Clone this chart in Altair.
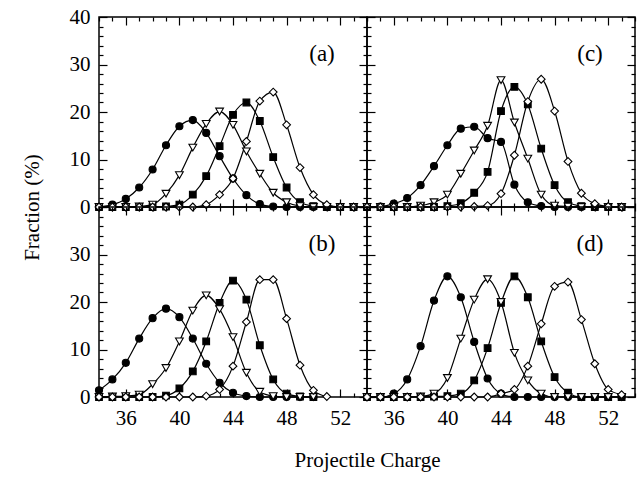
import altair as alt
import pandas as pd

# Projectile charge states (x positions of the points)
charges = list(range(34, 54))

# Fraction (%) per charge state; None = no point drawn
a_circle = [0, 0.5, 1.7, 4.1, 7.9, 13.0, 17.0, 18.3, 15.6, 10.7, 6.0, 2.5, 0.6, 0.1, 0, 0, 0, 0, 0, 0]
a_tri = [0, 0, 0, 0.1, 0.5, 2.8, 6.7, 12.5, 17.5, 20.1, 17.3, 11.7, 7.0, 3.0, 1.0, 0.2, 0, 0, 0, 0]
a_sq = [0, 0, 0, 0, 0, 0.1, 0.5, 2.6, 6.5, 12.8, 19.4, 22.0, 18.1, 10.5, 4.1, 1.0, 0.2, 0, 0, 0]
a_dia = [0, 0, 0, 0, 0, 0, 0, 0, 0.5, 2.6, 6.0, 13.8, 22.3, 24.2, 17.3, 8.3, 2.6, 0.5, 0, 0]

b_circle = [1.4, 3.7, 7.2, 12.3, 16.6, 18.6, 16.8, 12.3, 7.0, 3.0, 0.9, 0.2, 0, 0, 0, 0, 0, None, None, None]
b_tri = [0, 0.1, 0.2, 0.5, 2.7, 6.1, 11.7, 18.2, 21.4, 18.5, 12.6, 5.1, 1.1, 0.2, 0, 0, 0, None, None, None]
b_sq = [0, 0, 0, 0, 0, 0.3, 1.8, 5.4, 11.7, 19.8, 24.5, 20.5, 10.9, 3.7, 0.7, 0.1, 0, None, None, None]
b_dia = [0, 0, 0, 0, 0, 0, 0, 0, 0.2, 1.6, 6.5, 15.8, 24.7, 24.7, 16.5, 6.7, 1.4, 0.1, None, None]

c_circle = [0, 0.1, 0.7, 1.9, 4.6, 8.6, 13.0, 16.5, 16.9, 14.5, 13.7, 4.7, 1.0, 0.2, 0, 0, 0, 0, 0, 0]
c_tri = [0, 0, 0, 0, 0.3, 1.0, 2.6, 7.0, 11.9, 17.1, 26.7, 17.8, 10.2, 2.6, 0.3, 0.1, 0, 0, 0, 0]
c_sq = [0, 0, 0, 0, 0, 0, 0.2, 0.8, 3.0, 7.4, 20.2, 25.3, 21.6, 12.3, 4.6, 1.0, 0.2, 0, 0, 0]
c_dia = [0, 0, 0, 0, 0, 0, 0, 0, 0.1, 0.3, 2.8, 10.9, 22.2, 26.9, 20.2, 9.6, 2.9, 0.7, 0.1, 0]

d_circle = [0, 0, 0.7, 3.7, 10.7, 20.3, 25.4, 21.0, 11.6, 3.9, 0.7, 0, 0, 0, 0, 0, 0, 0, 0, 0]
d_tri = [0, 0, 0, 0, 0.1, 0.7, 4.0, 12.3, 20.5, 24.8, 20.0, 9.3, 3.5, 0.7, 0, 0, 0, 0, 0, 0]
d_sq = [0, 0, 0, 0, 0, 0.1, 0.2, 0.7, 3.5, 10.3, 19.8, 25.4, 21.0, 11.7, 4.2, 0.9, 0, 0, 0, 0]
d_dia = [0, 0, 0, 0, 0, 0, 0, 0, 0, 0, 0.7, 1.6, 6.5, 15.4, 23.3, 24.2, 16.3, 7.0, 1.6, 0.5]

panels = {
    "a": {"circle": a_circle, "tri": a_tri, "sq": a_sq, "dia": a_dia},
    "b": {"circle": b_circle, "tri": b_tri, "sq": b_sq, "dia": b_dia},
    "c": {"circle": c_circle, "tri": c_tri, "sq": c_sq, "dia": c_dia},
    "d": {"circle": d_circle, "tri": d_tri, "sq": d_sq, "dia": d_dia},
}

rows = []
for key, series in panels.items():
    for name, values in series.items():
        for q, v in zip(charges, values):
            if v is not None:
                rows.append({"panel": key, "series": name, "q": q, "v": v})
df = pd.DataFrame(rows)

W, H = 268, 190
FONT = "Liberation Serif"
x_major = [36, 40, 44, 48, 52]
x_minor = list(range(34, 55))
y_minor = list(range(0, 41, 2))

xs = alt.Scale(domain=[34, 54], nice=False, zero=False)
ys = alt.Scale(domain=[0, 40], nice=False, zero=False)

x_tick = {"condition": {"test": "datum.value % 4 === 0", "value": 8}, "value": 4}
y_tick = {"condition": {"test": "datum.value % 10 === 0", "value": 8}, "value": 4}


def tick_axis(orient, values, size, offset):
    return alt.Axis(orient=orient, values=values, tickSize=size, offset=offset,
                    labels=False, domain=False, grid=False, title=None,
                    tickColor="black", tickWidth=1.2)


def panel(key, label, x_labels, y_labels, x_title=None, y_title=None):
    base = alt.Chart(df).transform_filter(alt.datum.panel == key)

    if x_labels:
        xa = alt.Axis(orient="bottom", values=x_major, ticks=False, domain=False, grid=False,
                      labelFont=FONT, labelFontSize=21, labelPadding=10, labelColor="black",
                      title=x_title if x_title else None,
                      **({"titleX": W, "titleY": 69, "titleFont": FONT, "titleFontSize": 21,
                          "titleFontWeight": "normal", "titleBaseline": "alphabetic",
                          "titleAlign": "center", "titleColor": "black"} if x_title else {}))
    else:
        xa = None
    if y_labels:
        ya = alt.Axis(orient="left", values=y_labels, ticks=False, domain=False, grid=False,
                      labelFont=FONT, labelFontSize=21, labelPadding=9, labelColor="black",
                      title=y_title if y_title else None,
                      **({"titleX": -67, "titleY": H, "titleFont": FONT, "titleFontSize": 21,
                          "titleFontWeight": "normal", "titleAngle": 270, "titleBaseline": "middle",
                          "titleAlign": "center", "titleColor": "black"} if y_title else {}))
    else:
        ya = None

    lines = base.mark_line(color="black", strokeWidth=1.2, interpolate="monotone").encode(
        x=alt.X("q:Q", scale=xs, axis=xa),
        y=alt.Y("v:Q", scale=ys, axis=ya),
        detail="series:N",
    )

    def points(name, shape, fill, size, xaxis, yaxis):
        return base.transform_filter(alt.datum.series == name).mark_point(
            shape=shape, filled=True, fill=fill, stroke="black", strokeWidth=1.1,
            size=size, opacity=1,
        ).encode(
            x=alt.X("q:Q", scale=xs, axis=xaxis),
            y=alt.Y("v:Q", scale=ys, axis=yaxis),
        )

    # inward ticks on all four edges
    circles = points("circle", "circle", "black", 50,
                     tick_axis("top", x_minor, x_tick, -H), tick_axis("right", y_minor, y_tick, -W))
    squares = points("sq", "square", "black", 45,
                     tick_axis("bottom", x_minor, x_tick, -H), tick_axis("left", y_minor, y_tick, -W))
    tris = points("tri", "triangle-down", "white", 60, None, None)
    dias = points("dia", "diamond", "white", 60, None, None)

    tag = alt.Chart(pd.DataFrame({"t": [label]})).mark_text(
        font=FONT, fontSize=23, align="center", baseline="middle", color="black"
    ).encode(text="t:N", x=alt.value(W - 45), y=alt.value(37))

    return alt.layer(lines, circles, squares, tris, dias, tag).resolve_axis(
        x="independent", y="independent"
    ).properties(width=W, height=H)


pa = panel("a", "(a)", False, [0, 10, 20, 30, 40], y_title="Fraction (%)")
pc = panel("c", "(c)", False, None)
pb = panel("b", "(b)", True, [0, 10, 20, 30], x_title="Projectile Charge")
pd_ = panel("d", "(d)", True, None)

chart = alt.concat(pa, pc, pb, pd_, columns=2, spacing=0, bounds="flush").properties(
    padding={"left": 20, "top": 5, "right": 5, "bottom": 5},
    background="white",
).configure_view(stroke="black", strokeWidth=1.5)

chart.save("out.html", embed_options={"renderer": "svg", "actions": False})
